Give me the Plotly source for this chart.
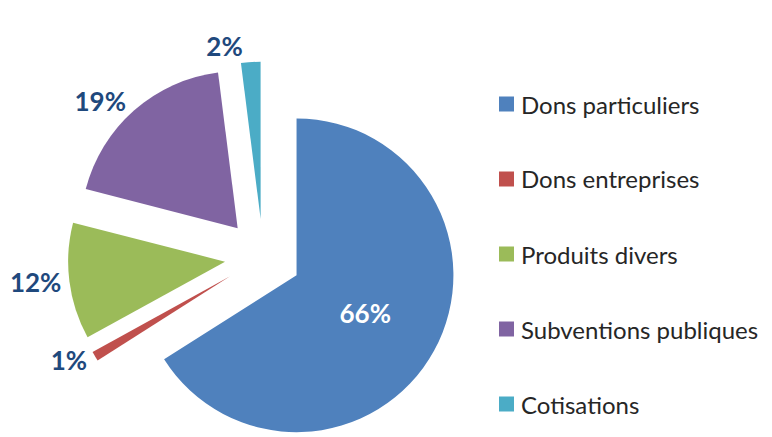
import plotly.graph_objects as go

labels = ["Dons particuliers", "Dons entreprises", "Produits divers",
          "Subventions publiques", "Cotisations"]
values = [66, 1, 12, 19, 2]
colors = ["#4F81BD", "#C0504D", "#9BBB59", "#8064A2", "#4BACC6"]

W, H = 772, 444
OFF = 8  # the page body adds an 8px margin around the figure


def px(x, y):
    # screen pixel -> paper coordinates (figure margins are zero)
    return (x - OFF) / W, 1 - (y - OFF) / H


# pie box in screen pixels: centre (263, 257), half size r * (1 + pull)
R, PULL = 157, 0.244
half = R * (1 + PULL)
dx0, dy1 = px(263 - half, 257 - half)
dx1, dy0 = px(263 + half, 257 + half)

fig = go.Figure()

fig.add_trace(
    go.Pie(
        labels=labels,
        values=values,
        sort=False,
        direction="clockwise",
        rotation=0,
        pull=[PULL] * len(values),
        marker=dict(colors=colors, line=dict(width=0)),
        texttemplate="%{percent:.0%}",
        textposition=["inside"] + ["outside"] * (len(values) - 1),
        insidetextorientation="horizontal",
        insidetextfont=dict(family="Lato", size=26, color="white", weight="bold"),
        outsidetextfont=dict(family="Lato", size=26, color="#1F497D", weight="bold"),
        domain=dict(x=[dx0, dx1], y=[max(dy0, 0), min(dy1, 1)]),
        automargin=False,
        showlegend=False,
        hoverinfo="label+percent",
    )
)

# legend drawn by hand to get the wide spacing of the original
for i, (name, col) in enumerate(zip(labels, colors)):
    cy = 104 + 75 * i
    x0, y0 = px(499, cy - 7.5)
    x1, y1 = px(514, cy + 7.5)
    fig.add_shape(type="rect", xref="paper", yref="paper",
                  x0=x0, x1=x1, y0=y1, y1=y0,
                  fillcolor=col, line=dict(width=0))
    tx, ty = px(519, cy)
    fig.add_annotation(x=tx, y=ty, xref="paper", yref="paper",
                       text=name, showarrow=False,
                       xanchor="left", yanchor="middle",
                       font=dict(family="Lato", size=24, color="#262626"))

fig.update_layout(
    width=W,
    height=H,
    margin=dict(l=0, r=0, t=0, b=0, autoexpand=False),
    paper_bgcolor="white",
    plot_bgcolor="white",
    showlegend=False,
)

fig.write_html("out.html")
